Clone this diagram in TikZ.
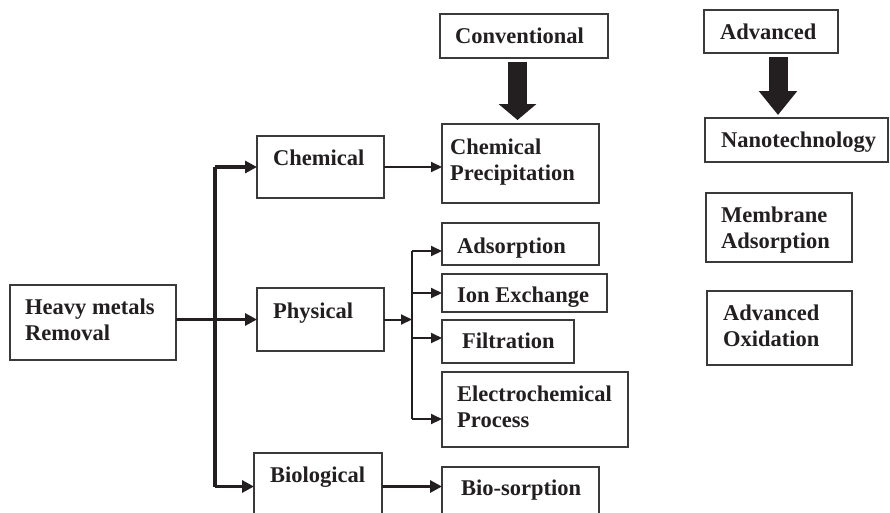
\documentclass[tikz,border=0pt]{standalone}
\usepackage{fontspec}
\setmainfont{Liberation Serif}
\usetikzlibrary{arrows.meta,calc}
\definecolor{ink}{HTML}{231F20}
\definecolor{edge}{HTML}{3A3A3A}
\newcommand\mybox[5]{\node[bx,minimum width={#4-#2},minimum height={#5-#3}] (#1) at ({(#2+#4)/2},{(#3+#5)/2}) {};}
\begin{document}
\begin{tikzpicture}[x=1pt,y=-1pt,
  bx/.style={draw=edge,line width=1.3pt,inner sep=0pt,outer sep=0pt,rectangle},
  lbl/.style={anchor=base west,inner sep=0pt,align=left,text=ink,font=\fontsize{22.5}{26}\selectfont\bfseries},
  thinarr/.style={draw=ink,line width=2pt,-{Triangle[length=11pt,width=10pt]}},
  thickarr/.style={draw=ink,line width=3.6pt,-{Triangle[length=12pt,width=12pt]}},
  thickline/.style={draw=ink,line width=3.8pt},
  thinline/.style={draw=ink,line width=2pt},
  blockarr/.style={draw=ink,fill=ink,line width=19pt}]
\useasboundingbox (0,0) rectangle (890,512);
% boxes
\mybox{heavy}{10}{285}{176}{360}
\mybox{chem}{257}{136}{384}{198}
\mybox{phys}{257}{288}{384}{351}
\mybox{bio}{254}{453}{382}{516}
\mybox{cp}{442}{124}{599}{203}
\mybox{ads}{442}{223}{599}{265}
\mybox{ion}{442}{274}{607}{312}
\mybox{filt}{442}{320}{574}{363}
\mybox{elec}{442}{372}{628}{447}
\mybox{bs}{442}{467}{599}{520}
\mybox{conv}{440}{14}{608}{58}
\mybox{adv}{704}{10}{838}{53}
\mybox{nano}{705}{118}{888}{162}
\mybox{memb}{706}{193}{852}{262}
\mybox{aox}{707}{291}{852}{365}
% labels (multi-line nodes: base = last line baseline)
\node[lbl] (heavyt) at (25,340) {Heavy metals\\Removal};
\node[lbl] (chemt) at (273,165) {Chemical};
\node[lbl] (physt) at (273,318) {Physical};
\node[lbl] (biot) at (270,482) {Biological};
\node[lbl] (cpt) at (450,180) {Chemical\\Precipitation};
\node[lbl] (adst) at (457,253) {Adsorption};
\node[lbl] (iont) at (457,302) {Ion Exchange};
\node[lbl] (filtt) at (462,348) {Filtration};
\node[lbl] (elect) at (457,427) {Electrochemical\\Process};
\node[lbl] (bst) at (461,495) {Bio-sorption};
\node[lbl] (convt) at (455,43) {Conventional};
\node[lbl] (advt) at (720,39) {Advanced};
\node[lbl] (nanot) at (721,147) {Nanotechnology};
\node[lbl] (membt) at (721,248) {Membrane\\Adsorption};
\node[lbl] (aoxt) at (723,346) {Advanced\\Oxidation};
% buses
\coordinate (b1) at (215,0);
\coordinate (b2) at (412,0);
\draw[thickline] (chem.west -| b1) -- ([yshift=-2pt]bio.west -| b1);
\draw[thickarr] (chem.west -| b1) -- (chem.west);
\draw[thickarr] ([yshift=-2pt]bio.west -| b1) -- ([yshift=-2pt]bio.west);
\draw[thickarr] (heavy.east |- phys.west) -- (phys.west);
\draw[thinarr] (chem.east) -- (chem.east -| cp.west);
\draw[thinarr] (phys.east) -- (phys.east -| b2);
\draw[thinline] ([yshift=-7pt]ads.west -| b2) -- ([yshift=-9.5pt]elec.west -| b2);
\draw[thinarr] ([yshift=-7pt]ads.west -| b2) -- ([yshift=-7pt]ads.west);
\draw[thinarr] (ion.west -| b2) -- (ion.west);
\draw[thinarr] ([yshift=3.5pt]filt.west -| b2) -- ([yshift=3.5pt]filt.west);
\draw[thinarr] ([yshift=-9.5pt]elec.west -| b2) -- ([yshift=-9.5pt]elec.west);
\draw[thickarr] ([yshift=-2pt]bio.east) -- ([yshift=-2pt]bio.east -| bs.west);
% block arrows
\coordinate (ca1) at (517.5,62);
\coordinate (ca2) at (517.5,120);
\coordinate (aa1) at (778,57);
\coordinate (aa2) at (778,115);
\draw[blockarr,-{Triangle[length=16pt,width=37pt]}] (ca1) -- (ca2);
\draw[blockarr,-{Triangle[length=24pt,width=37pt]}] (aa1) -- (aa2);
\end{tikzpicture}
\end{document}
